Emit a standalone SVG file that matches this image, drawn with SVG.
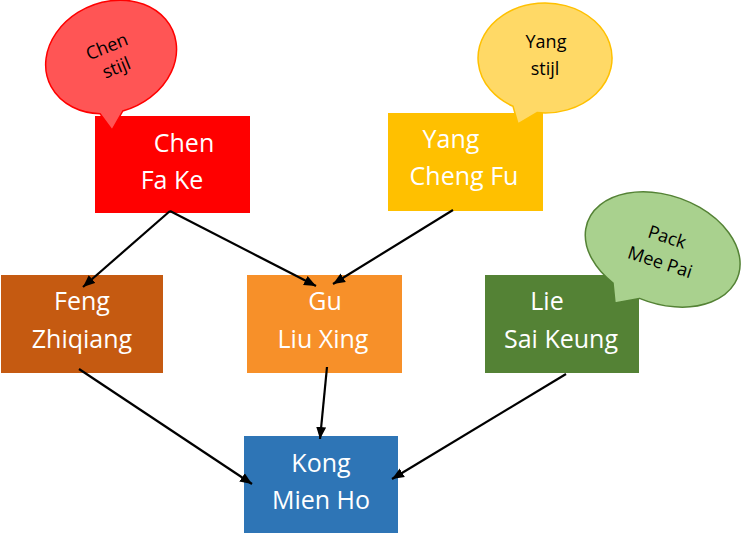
<svg xmlns="http://www.w3.org/2000/svg" width="742" height="535" viewBox="0 0 742 535">
<style>
.box text{font-family:"Open Sans","Liberation Sans",sans-serif;font-size:25px;fill:#fff;text-anchor:middle}
.bub text{font-family:"Open Sans","Liberation Sans",sans-serif;font-size:18px;fill:#000;text-anchor:middle}
.conn line{stroke:#000;stroke-width:2.2;marker-end:url(#ah)}
</style>
<defs>
<marker id="ah" markerUnits="userSpaceOnUse" markerWidth="13" markerHeight="11" refX="12" refY="5.5" orient="auto">
<path d="M0,0.5 L12,5.5 L0,10.5 z" fill="#000"/>
</marker>
</defs>
<rect width="742" height="535" fill="#fff"/>
<g class="box" id="chen">
<rect x="95" y="116" width="155" height="97" fill="#FF0000"/>
<text x="184" y="152">Chen</text>
<text x="172" y="189">Fa Ke</text>
</g>
<g class="box" id="yang">
<rect x="388" y="113" width="155" height="98" fill="#FFC000"/>
<text x="451" y="148">Yang</text>
<text x="464" y="185">Cheng Fu</text>
</g>
<g class="box" id="feng">
<rect x="1" y="275" width="162" height="98" fill="#C55A11"/>
<text x="82" y="310">Feng</text>
<text x="82" y="348">Zhiqiang</text>
</g>
<g class="box" id="gu">
<rect x="247" y="275" width="155" height="98" fill="#F79029"/>
<text x="325" y="310">Gu</text>
<text x="323" y="348">Liu Xing</text>
</g>
<g class="box" id="lie">
<rect x="485" y="275" width="154" height="98" fill="#548235"/>
<text x="547" y="310">Lie</text>
<text x="561" y="348">Sai Keung</text>
</g>
<g class="box" id="kong">
<rect x="244" y="436" width="154" height="97" fill="#2E75B6"/>
<text x="321" y="472">Kong</text>
<text x="321" y="509">Mien Ho</text>
</g>
<g class="conn" id="connectors">
<line x1="170" y1="211" x2="83" y2="287"/>
<line x1="170" y1="211" x2="316" y2="286"/>
<line x1="453" y1="210" x2="333" y2="284"/>
<line x1="79" y1="369" x2="252" y2="484"/>
<line x1="327" y1="367" x2="320" y2="439"/>
<line x1="566" y1="374" x2="392" y2="479"/>
</g>
<g class="bub" id="chen-stijl">
<path d="M122.8,111 L112,130 L100.1,113.8 A67,55 -22 1 1 122.8,111 Z" fill="#FF5555" stroke="#FF0000" stroke-width="1.5"/>
<g transform="rotate(-22 111 57)">
<text x="111" y="52">Chen</text>
<text x="112" y="75">stijl</text>
</g>
</g>
<g class="bub" id="yang-stijl">
<path d="M537,112.6 L518,124 L513,106.3 A67,55 0 1 1 537,112.6 Z" fill="#FFD966" stroke="#FFC000" stroke-width="1.5"/>
<text x="546" y="48">Yang</text>
<text x="545" y="75">stijl</text>
</g>
<g class="bub" id="pack-mee-pai">
<path d="M639.5,298.4 L615,303 L613,283 A80,54 20 1 1 639.5,298.4 Z" fill="#A9D18E" stroke="#548235" stroke-width="1.5"/>
<g transform="rotate(18 664 250)">
<text x="663" y="243">Pack</text>
<text x="664" y="269">Mee Pai</text>
</g>
</g>
</svg>
